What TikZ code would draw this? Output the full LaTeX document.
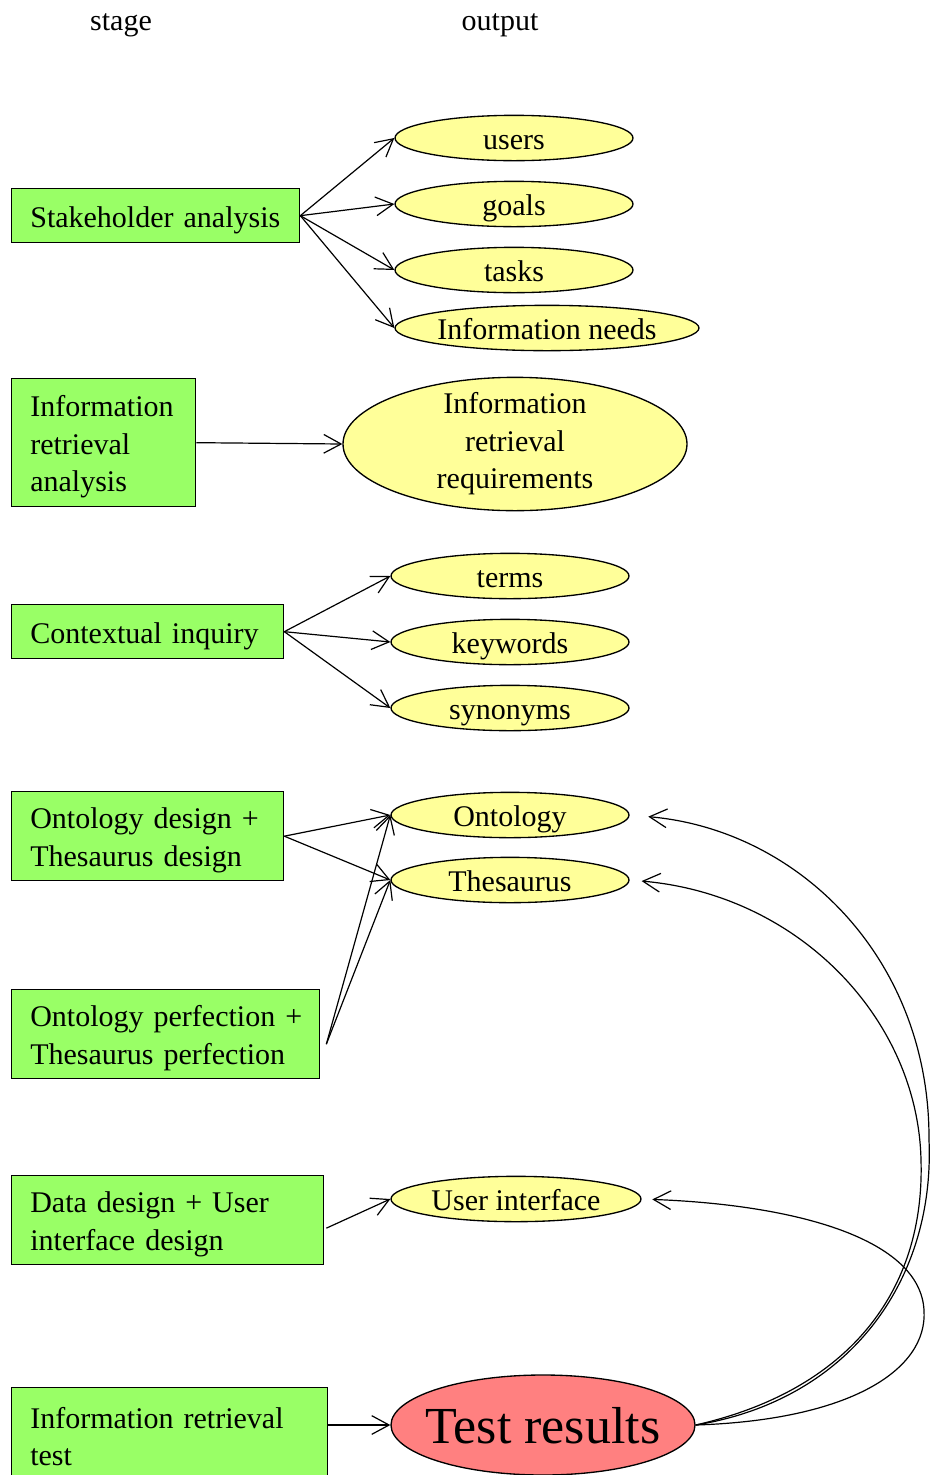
\documentclass[tikz,border=0pt]{standalone}
\usepackage{fontspec}
\setmainfont{Liberation Serif}
\usetikzlibrary{shapes.geometric,arrows.meta,positioning,calc}
\definecolor{boxgreen}{HTML}{99FF66}
\definecolor{outyellow}{HTML}{FFFF99}
\definecolor{resred}{HTML}{FF8080}

\begin{document}
\begin{tikzpicture}[x=0.75pt, y=-0.75pt,
  every node/.style={font=\fontsize{22.5}{28}\selectfont, execute at begin node=\rule[-5pt]{0pt}{27pt}},
  stagebox/.style={draw, line width=1pt, rectangle, fill=boxgreen, anchor=north west, align=left, inner xsep=14pt, inner ysep=0pt},
  outnode/.style={draw, line width=1pt, ellipse, fill=outyellow, inner xsep=0pt, inner ysep=-4pt, minimum width=178.5pt, minimum height=34pt},
  link/.style={-{Straight Barb[length=13pt,width=14pt]}, line width=0.9pt}]
  \useasboundingbox (0,0) rectangle (932,1475);

  \node (stagehd) at (121,19) {stage};
  \node (outhd) at (500,19) {output};

  % stages
  \node[stagebox, text width=188pt, minimum height=40.5pt] (stake) at (11,188) {Stakeholder analysis};
  \node[stagebox, text width=110pt, minimum height=96pt] (ira) at (11,378) {Information\\retrieval\\analysis};
  \node[stagebox, text width=176pt, minimum height=40.5pt] (ci) at (11,604) {Contextual inquiry};
  \node[stagebox, text width=176pt, minimum height=66.75pt] (od) at (11,791) {Ontology design +\\Thesaurus design};
  \node[stagebox, text width=203pt, minimum height=66.75pt] (op) at (11,989) {\mbox{Ontology perfection +}\\Thesaurus perfection};
  \node[stagebox, text width=206pt, minimum height=66.75pt] (dd) at (11,1175) {Data design + User\\interface design};
  \node[stagebox, text width=209pt, minimum height=66.75pt] (irt) at (11,1387) {Information retrieval\\test};

  % outputs
  \node[outnode] (users) at (514,138) {users};
  \node[outnode] (goals) at (514,204) {goals};
  \node[outnode] (tasks) at (514,270) {tasks};
  \node[outnode, minimum width=228pt, inner xsep=-2pt] (needs) at (547,328) {Information needs};
  \node[outnode, minimum width=258pt, minimum height=100pt, inner ysep=-8pt, align=center] (irreq) at (515,444) {Information\\retrieval\\requirements};
  \node[outnode] (terms) at (510,576) {terms};
  \node[outnode] (keywords) at (510,642) {keywords};
  \node[outnode] (synonyms) at (510,708) {synonyms};
  \node[outnode] (onto) at (510,815) {Ontology};
  \node[outnode] (thes) at (510,880) {Thesaurus};
  \node[outnode, minimum width=187.5pt] (ui) at (516,1199) {User interface};
  \node[outnode, fill=resred, minimum width=228pt, minimum height=75pt, inner xsep=-9pt, font=\fontsize{39}{47}\selectfont, execute at begin node=\rule{0pt}{33pt}] (tr) at (543,1425) {Test results};

  \coordinate (opout) at ($(op.east)+(6,10)$);
  \coordinate (ddout) at ($(dd.east)+(2,8)$);

  \foreach \o in {users,goals,tasks,needs} \draw[link] (stake.east) -- (\o.west);
  \draw[link] (ira.east) -- (irreq.west);
  \foreach \o in {terms,keywords,synonyms} \draw[link] (ci.east) -- (\o.west);
  \foreach \o in {onto,thes} \draw[link] (od.east) -- (\o.west);
  \foreach \o in {onto,thes} \draw[link] (opout) -- (\o.west);
  \draw[link] (ddout) -- (ui.west);
  \draw[link] (irt.east |- tr.west) -- (tr.west);

  % feedback from the tests
  \draw[link, shorten >=14pt] (tr.east) .. controls (850,1400) and (935,1280) .. (929,1140) .. controls (930,960) and (800,830) .. (onto.east);
  \draw[link, shorten >=9pt] (tr.east) .. controls (850,1390) and (925,1290) .. (921,1160) .. controls (918,1020) and (800,895) .. (thes.east);
  \draw[link, shorten >=8pt] (tr.east) .. controls (850,1420) and (928,1370) .. (924,1310) .. controls (920,1240) and (800,1205) .. (ui.east);
\end{tikzpicture}
\end{document}
